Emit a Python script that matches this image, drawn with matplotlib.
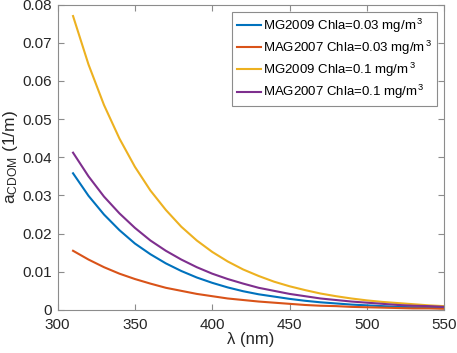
import matplotlib
matplotlib.use("Agg")
import matplotlib.pyplot as plt

plt.rcParams["font.family"] = ["Liberation Sans", "DejaVu Sans"]
plt.rcParams["mathtext.fontset"] = "custom"
plt.rcParams["mathtext.rm"] = "Liberation Sans"
plt.rcParams["mathtext.it"] = "Liberation Sans:italic"

# wavelength (nm)
wavelength = [310, 320, 330, 340, 350, 360, 370, 380, 390, 400, 410, 420, 430,
              440, 450, 460, 470, 480, 490, 500, 510, 520, 530, 540, 550]

# a_CDOM (1/m)
mg2009_003 = [0.0358, 0.0299, 0.0250, 0.0209, 0.0174, 0.0146, 0.0122, 0.0102,
              0.0085, 0.0071, 0.0059, 0.0049, 0.0041, 0.0035, 0.0029, 0.0024,
              0.0020, 0.0017, 0.0014, 0.0012, 0.0010, 0.0008, 0.0007, 0.0006,
              0.0005]
mag2007_003 = [0.0155, 0.0132, 0.0112, 0.0095, 0.0081, 0.0069, 0.0058, 0.0050,
               0.0042, 0.0036, 0.0030, 0.0026, 0.0022, 0.0019, 0.0016, 0.0013,
               0.0011, 0.0010, 0.0008, 0.0007, 0.0006, 0.0005, 0.0004, 0.0004,
               0.0003]
mg2009_01 = [0.0770, 0.0643, 0.0537, 0.0449, 0.0375, 0.0313, 0.0262, 0.0218,
             0.0182, 0.0152, 0.0127, 0.0106, 0.0089, 0.0074, 0.0062, 0.0052,
             0.0043, 0.0036, 0.0030, 0.0025, 0.0021, 0.0018, 0.0015, 0.0012,
             0.0010]
mag2007_01 = [0.0412, 0.0350, 0.0297, 0.0253, 0.0215, 0.0182, 0.0155, 0.0132,
              0.0112, 0.0095, 0.0081, 0.0069, 0.0058, 0.0050, 0.0042, 0.0036,
              0.0030, 0.0026, 0.0022, 0.0019, 0.0016, 0.0013, 0.0011, 0.0010,
              0.0008]

labels = [r"MG2009 Chla=0.03 mg/m$^{\,3}$",
          r"MAG2007 Chla=0.03 mg/m$^{\,3}$",
          r"MG2009 Chla=0.1 mg/m$^{\,3}$",
          r"MAG2007 Chla=0.1 mg/m$^{\,3}$"]
colors = ["#0072BD", "#D95319", "#EDB120", "#7E2F8E"]
series = [mg2009_003, mag2007_003, mg2009_01, mag2007_01]

fig = plt.figure(figsize=(4.57, 3.53), dpi=100)
ax = fig.add_axes([0.126, 0.122, 0.846, 0.865])

for y, c, lab in zip(series, colors, labels):
    ax.plot(wavelength, y, color=c, lw=1.5, label=lab)

ax.set_xlim(300, 550)
ax.set_ylim(0, 0.08)
ax.set_xticks([300, 350, 400, 450, 500, 550])
ax.set_yticks([0, 0.01, 0.02, 0.03, 0.04, 0.05, 0.06, 0.07, 0.08])
ax.set_yticklabels(["0", "0.01", "0.02", "0.03", "0.04", "0.05", "0.06",
                    "0.07", "0.08"])

for s in ax.spines.values():
    s.set_color("#8c8c8c")
    s.set_linewidth(0.8)
ax.tick_params(direction="in", length=4, width=0.8, color="#8c8c8c",
               labelcolor="#262626", labelsize=11, top=True, right=True)
ax.tick_params(axis="x", pad=6)
ax.tick_params(axis="y", pad=4)

ax.set_xlabel("λ (nm)", fontsize=12, color="#262626", labelpad=0)
ax.set_ylabel(r"a$_{\mathrm{CDOM}}$ (1/m)", fontsize=12.5, color="#262626",
              labelpad=2)

leg = ax.legend(loc="upper right", fontsize=9.5, fancybox=False, framealpha=1,
                handlelength=1.8, handletextpad=0.2, labelspacing=0.3,
                borderpad=0.35, borderaxespad=0.55)
leg.get_frame().set_edgecolor("#8c8c8c")
leg.get_frame().set_linewidth(0.8)

fig.savefig("out.png", dpi=100)
